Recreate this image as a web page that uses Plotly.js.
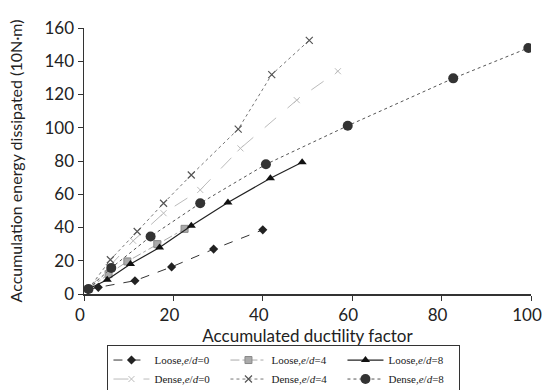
<!DOCTYPE html>
<html>
<head>
<meta charset="utf-8">
<script src="https://cdn.plot.ly/plotly-3.0.1.min.js"></script>
<style>html,body{margin:0;padding:0;background:#fff}#chart{width:543px;height:390px}</style>
</head>
<body>
<div id="chart"></div>
<script>
// Accumulated ductility factor (x) and accumulated energy dissipated (y, 10N·m)
const looseD0_x = [0.9, 3.2, 11.4, 19.6, 29.0, 40.0];
const looseD0_y = [2.6, 4.0, 8.0, 16.3, 27.0, 38.6];

const looseD4_x = [1.0, 5.5, 9.7, 16.4, 22.5];
const looseD4_y = [3.0, 12.0, 19.6, 30.0, 39.2];

const looseD8_x = [1.0, 5.2, 10.4, 16.9, 24.0, 32.2, 41.7, 48.8];
const looseD8_y = [3.0, 8.6, 18.0, 28.0, 41.0, 55.0, 69.6, 79.2];

const denseD0_x = [1.0, 5.5, 11.0, 17.8, 26.0, 35.0, 47.6, 56.8];
const denseD0_y = [3.0, 16.0, 32.0, 48.6, 62.6, 87.6, 116.6, 134.0];

const denseD4_x = [1.0, 5.9, 11.9, 17.8, 24.0, 34.5, 42.0, 50.4];
const denseD4_y = [3.0, 20.6, 37.6, 54.6, 71.6, 99.2, 132.0, 152.6];

const denseD8_x = [1.0, 6.1, 14.9, 26.0, 40.7, 59.0, 82.6, 99.4];
const denseD8_y = [3.0, 15.7, 34.6, 54.6, 78.0, 101.2, 129.7, 148.0];

const names = [
  'Loose,<i>e</i>/<i>d</i>=0', 'Loose,<i>e</i>/<i>d</i>=4', 'Loose,<i>e</i>/<i>d</i>=8',
  'Dense,<i>e</i>/<i>d</i>=0', 'Dense,<i>e</i>/<i>d</i>=4', 'Dense,<i>e</i>/<i>d</i>=8'
];

const traces = [
  {x: looseD0_x, y: looseD0_y, name: names[0], mode: 'lines+markers',
   line: {color: '#333', width: 1, dash: 'dash'},
   marker: {symbol: 'diamond', size: 7, color: '#222'}},
  {x: looseD4_x, y: looseD4_y, name: names[1], mode: 'lines+markers',
   line: {color: '#aaa', width: 1, dash: 'dashdot'},
   marker: {symbol: 'square', size: 7, color: '#aaa', line: {color: '#888', width: 1}}},
  {x: looseD8_x, y: looseD8_y, name: names[2], mode: 'lines+markers',
   line: {color: '#222', width: 1.2, dash: 'solid'},
   marker: {symbol: 'triangle-up', size: 8, color: '#111'}},
  {x: denseD0_x, y: denseD0_y, name: names[3], mode: 'lines+markers',
   line: {color: '#bbb', width: 1, dash: 'longdash'},
   marker: {symbol: 'x-thin', size: 6, color: '#bbb', line: {color: '#bbb', width: 1}}},
  {x: denseD4_x, y: denseD4_y, name: names[4], mode: 'lines+markers',
   line: {color: '#777', width: 1, dash: 'dot'},
   marker: {symbol: 'x-thin', size: 7, color: '#555', line: {color: '#555', width: 1.2}}},
  {x: denseD8_x, y: denseD8_y, name: names[5], mode: 'lines+markers',
   line: {color: '#555', width: 1, dash: 'dot'},
   marker: {symbol: 'circle', size: 10, color: '#333'}}
];

const fam = 'Lato, "Open Sans", sans-serif';
const tickFont = {family: fam, size: 17, color: '#222'};

const layout = {
  width: 543, height: 390,
  margin: {l: 83.5, r: 12, t: 28, b: 95.6, pad: 0, autoexpand: false},
  paper_bgcolor: '#fff', plot_bgcolor: '#fff',
  showlegend: true,
  xaxis: {
    range: [0, 100], tickvals: [0, 20, 40, 60, 80, 100],
    showgrid: false, zeroline: false, showline: true, linecolor: '#333', linewidth: 1.5,
    ticks: 'outside', ticklen: 5, tickcolor: '#333', tickfont: tickFont,
    ticklabeloverflow: 'allow', ticklabelshift: -4,
    title: {text: 'Accumulated ductility factor', font: {family: fam, size: 17, color: '#222'}, standoff: 0},
    automargin: false
  },
  yaxis: {
    range: [0, 160], tickvals: [0, 20, 40, 60, 80, 100, 120, 140, 160],
    showgrid: false, zeroline: false, showline: true, linecolor: '#333', linewidth: 1.5,
    ticks: 'outside', ticklen: 5, tickcolor: '#333', tickfont: tickFont,
    ticklabeloverflow: 'allow',
    title: {text: 'Accumulation energy dissipated (10N·m)', font: {family: fam, size: 16, color: '#222'}, standoff: 18},
    automargin: false
  },
  legend: {
    orientation: 'h', x: 0.0525, xanchor: 'left', y: -0.19, yanchor: 'top',
    entrywidth: 66, entrywidthmode: 'pixels', itemwidth: 36,
    font: {family: '"Liberation Serif", "DejaVu Serif", serif', size: 11, color: '#222'},
    bordercolor: '#333', borderwidth: 1, bgcolor: '#fff',
    tracegroupgap: 0, traceorder: 'normal'
  }
};

Plotly.newPlot('chart', traces, layout, {displayModeBar: false, staticPlot: true});
</script>
</body>
</html>
